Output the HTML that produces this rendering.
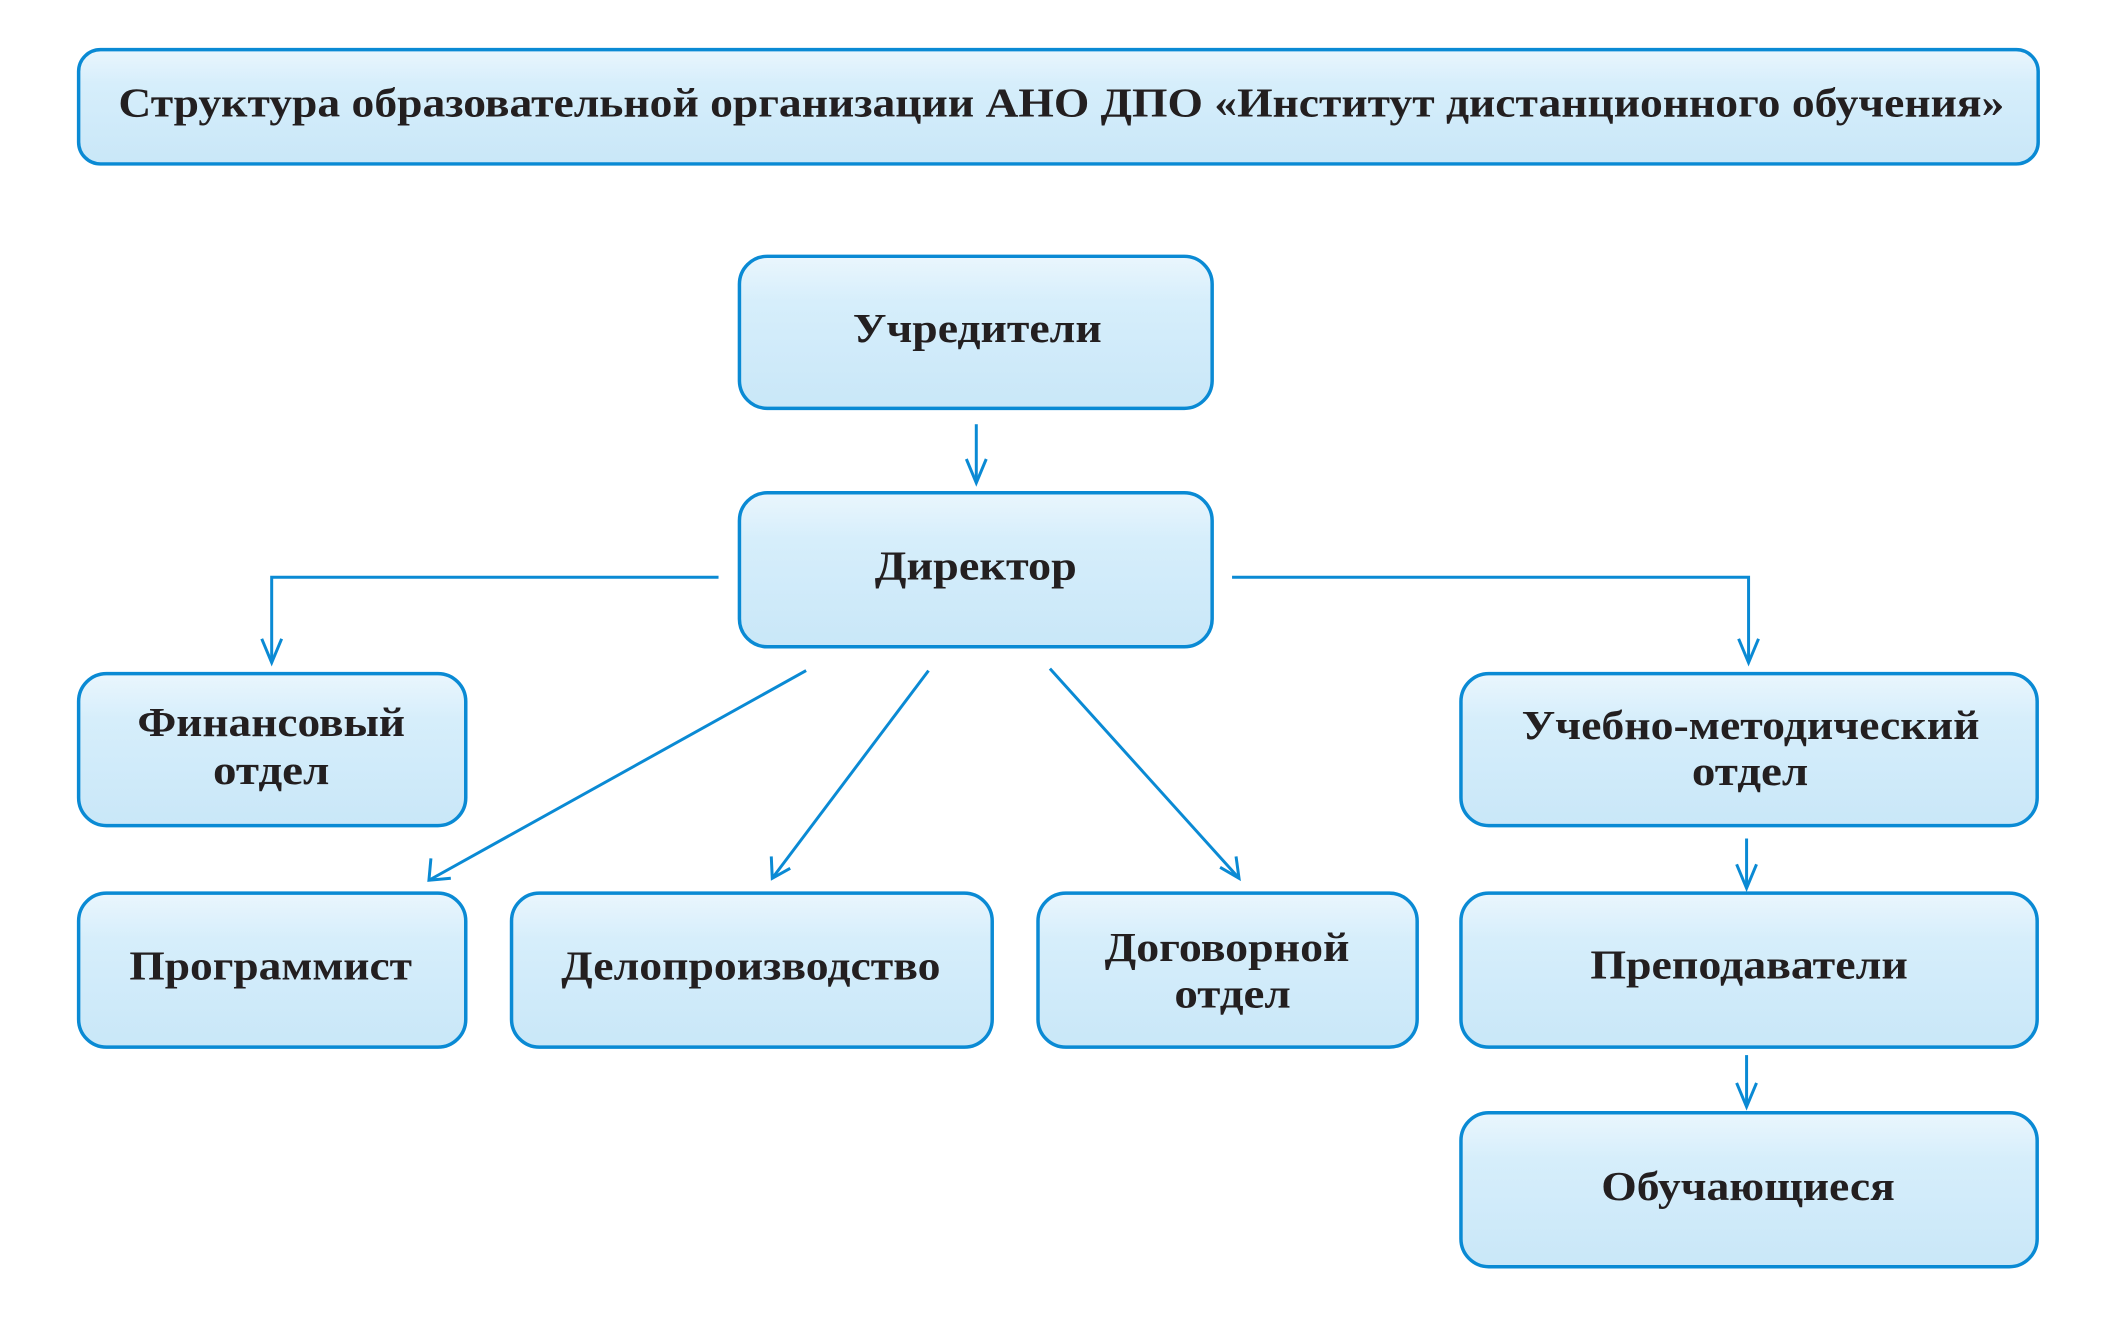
<!DOCTYPE html>
<html><head><meta charset="utf-8"><style>html,body{margin:0;padding:0;background:#fff}svg{display:block}</style></head>
<body>
<svg width="2116" height="1318" viewBox="0 0 2116 1318" xmlns="http://www.w3.org/2000/svg">
<defs>
<linearGradient id="g" x1="0" y1="0" x2="0" y2="1">
<stop offset="0" stop-color="#eaf6fd"/><stop offset="0.3" stop-color="#d6eefb"/><stop offset="1" stop-color="#c9e7f8"/>
</linearGradient>
</defs>
<g transform="matrix(0.9952 0 0 0.9935 0 0)">
<g fill="url(#g)" stroke="#0a8ad4" stroke-width="3.5">
<rect x="79" y="50" width="1969" height="115" rx="22"/>
<rect x="743" y="258" width="475" height="153" rx="28"/>
<rect x="743" y="496" width="475" height="155" rx="28"/>
<rect x="79" y="678" width="389" height="153" rx="28"/>
<rect x="1468" y="678" width="579" height="153" rx="28"/>
<rect x="79" y="899" width="389" height="155" rx="28"/>
<rect x="514" y="899" width="483" height="155" rx="28"/>
<rect x="1043" y="899" width="381" height="155" rx="28"/>
<rect x="1468" y="899" width="579" height="155" rx="28"/>
<rect x="1468" y="1120" width="579" height="155" rx="28"/>
</g>
<g stroke="#0a8ad4" stroke-width="3" fill="none">
<path d="M981 427V484"/><path d="M971 462L981 486L991 462"/>
<path d="M722 581H273V665"/><path d="M263 643L273 667L283 643"/>
<path d="M1238 581H1757V665"/><path d="M1747 643L1757 667L1767 643"/>
<path d="M810 675L431 886"/><path d="M433 864L431 886L453 884"/>
<path d="M933 675L776 884"/><path d="M775 862L776 884L794 874"/>
<path d="M1055 673L1245 884"/><path d="M1226 873L1245 884L1242 862"/>
<path d="M1755 844V892"/><path d="M1745 870L1755 894L1765 870"/>
<path d="M1755 1062V1112"/><path d="M1745 1090L1755 1114L1765 1090"/>
</g>
<g font-family="'Liberation Serif', serif" font-weight="bold" fill="#231f20" font-size="42" dominant-baseline="central">
<text x="119" y="104" textLength="1895" lengthAdjust="spacingAndGlyphs">Структура образовательной организации АНО ДПО «Институт дистанционного обучения»</text>
<text x="857" y="331" textLength="250" lengthAdjust="spacingAndGlyphs">Учредители</text>
<text x="879" y="570" textLength="203" lengthAdjust="spacingAndGlyphs">Директор</text>
<text x="138" y="728" textLength="269" lengthAdjust="spacingAndGlyphs">Финансовый</text>
<text x="214" y="776" textLength="117" lengthAdjust="spacingAndGlyphs">отдел</text>
<text x="1529" y="731" textLength="460" lengthAdjust="spacingAndGlyphs">Учебно-методический</text>
<text x="1700" y="777" textLength="117" lengthAdjust="spacingAndGlyphs">отдел</text>
<text x="130" y="973" textLength="284" lengthAdjust="spacingAndGlyphs">Программист</text>
<text x="564" y="973" textLength="381" lengthAdjust="spacingAndGlyphs">Делопроизводство</text>
<text x="1110" y="954" textLength="246" lengthAdjust="spacingAndGlyphs">Договорной</text>
<text x="1180" y="1001" textLength="117" lengthAdjust="spacingAndGlyphs">отдел</text>
<text x="1598" y="972" textLength="319" lengthAdjust="spacingAndGlyphs">Преподаватели</text>
<text x="1609" y="1195" textLength="295" lengthAdjust="spacingAndGlyphs">Обучающиеся</text>
</g>
</g>
</svg>
</body></html>
